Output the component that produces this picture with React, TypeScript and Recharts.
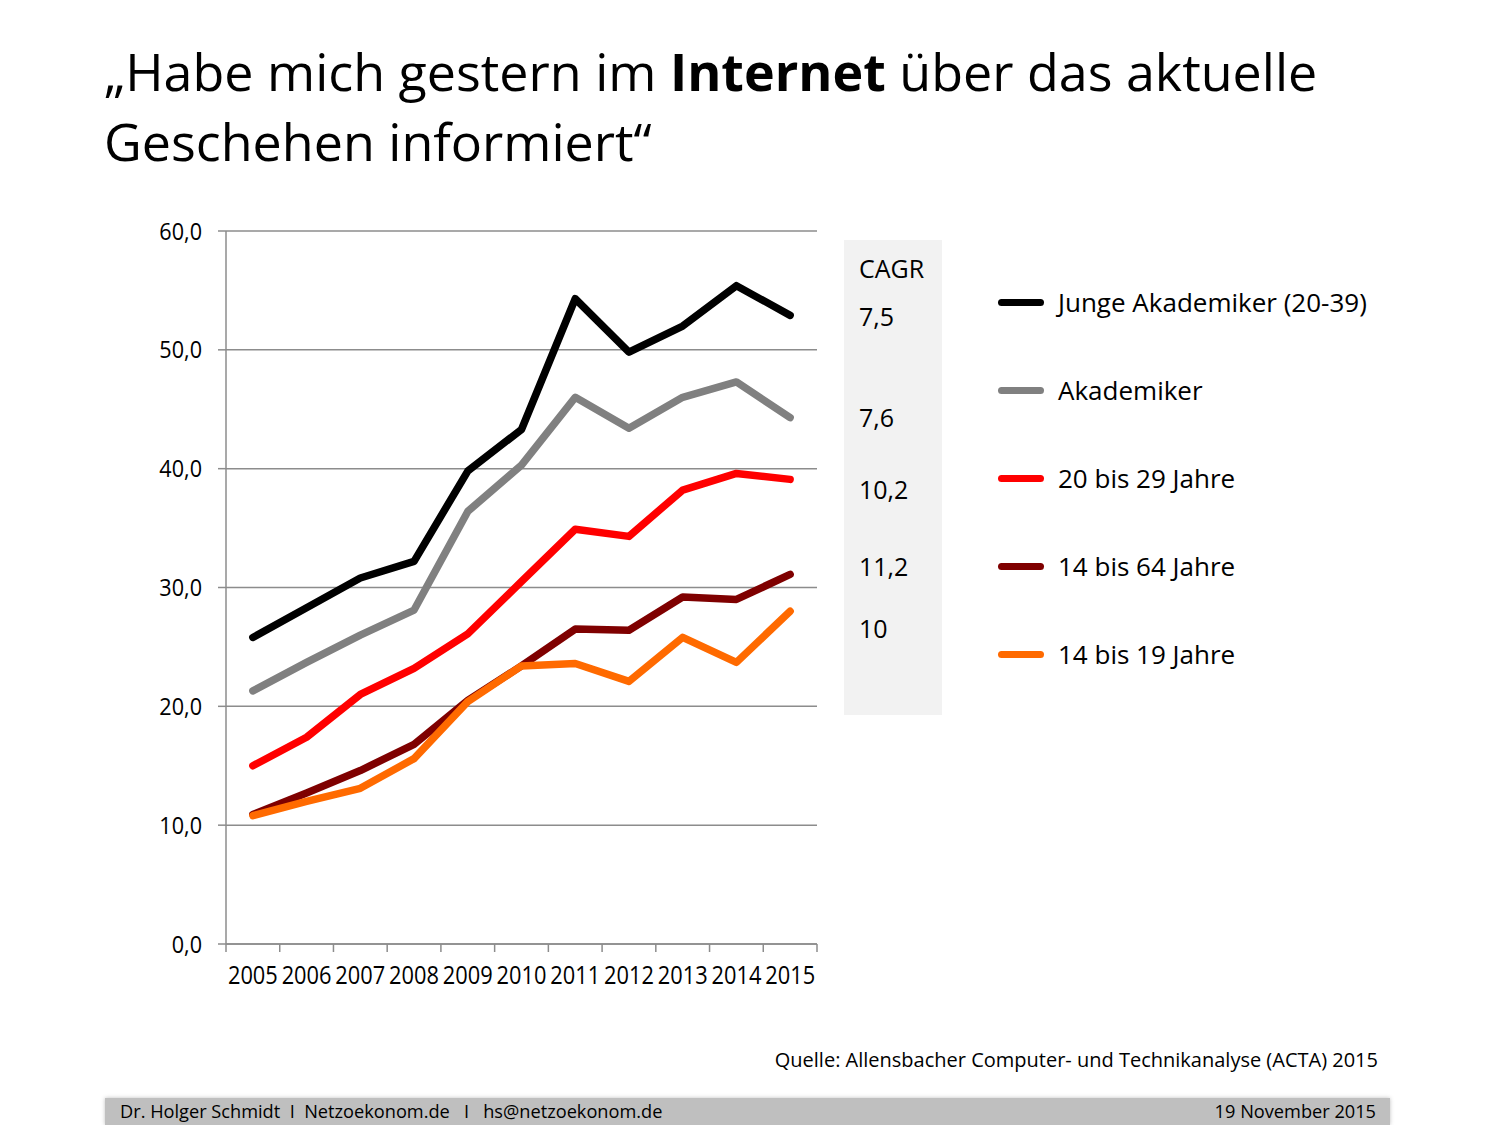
import { CartesianGrid, Line, LineChart, XAxis, YAxis } from "recharts";

const years = ["2005", "2006", "2007", "2008", "2009", "2010", "2011", "2012", "2013", "2014", "2015"];

const jungeAkademiker = [25.8, 28.3, 30.8, 32.2, 39.8, 43.3, 54.3, 49.8, 52.0, 55.4, 52.9];
const akademiker = [21.3, 23.7, 26.0, 28.1, 36.4, 40.3, 46.0, 43.4, 46.0, 47.3, 44.3];
const jahre20bis29 = [15.0, 17.4, 21.0, 23.2, 26.1, 30.5, 34.9, 34.3, 38.2, 39.6, 39.1];
const jahre14bis64 = [10.9, 12.7, 14.6, 16.8, 20.5, 23.4, 26.5, 26.4, 29.2, 29.0, 31.1];
const jahre14bis19 = [10.8, 12.0, 13.1, 15.6, 20.4, 23.4, 23.6, 22.1, 25.8, 23.7, 28.0];

const yTicks = [0, 10, 20, 30, 40, 50, 60];
const cagrValues = ["7,5", "7,6", "10,2", "11,2", "10"];

const series = [
  { key: "junge", name: "Junge Akademiker (20-39)", color: "#000000", values: jungeAkademiker },
  { key: "akad", name: "Akademiker", color: "#808080", values: akademiker },
  { key: "j2029", name: "20 bis 29 Jahre", color: "#ff0000", values: jahre20bis29 },
  { key: "j1464", name: "14 bis 64 Jahre", color: "#7f0000", values: jahre14bis64 },
  { key: "j1419", name: "14 bis 19 Jahre", color: "#ff6a00", values: jahre14bis19 },
];

// category bands: point i sits at i + 0.5, tick marks on the band edges
const data = years.map((year, i) => {
  const row: Record<string, number | string> = { year, pos: i + 0.5 };
  series.forEach((s) => (row[s.key] = s.values[i]));
  return row;
});
const edgeTicks = years.map((_, i) => i).concat(years.length);
const labelTicks = years.map((_, i) => i + 0.5);

const FONT = "'Open Sans', 'DejaVu Sans', sans-serif";
const cagrTop = [251, 299, 400, 472, 549, 611];

// the slide squeezes tick labels horizontally
function XTick({ x, y, payload }: any) {
  return (
    <text transform={`translate(${x},${y}) scale(0.84,1)`} textAnchor="middle" dy="0.71em" fontSize={26} fontFamily={FONT} fill="#000">
      {years[Math.floor(payload.value)]}
    </text>
  );
}

function YTick({ x, y, payload }: any) {
  return (
    <text transform={`translate(${x},${y}) scale(0.9,1)`} textAnchor="end" dy="0.355em" fontSize={24} fontFamily={FONT} fill="#000">
      {Number(payload.value).toFixed(1).replace(".", ",")}
    </text>
  );
}

function LegendBox() {
  return (
    <div style={{ position: "absolute", left: 998, top: 258, fontFamily: FONT }}>
      {series.map((s) => (
        <div key={s.key} style={{ display: "flex", alignItems: "center", height: 88 }}>
          <div style={{ width: 46, height: 7, borderRadius: 4, background: s.color, marginRight: 14 }} />
          <span style={{ fontSize: 26, color: "#000", whiteSpace: "nowrap" }}>{s.name}</span>
        </div>
      ))}
    </div>
  );
}

export default function App() {
  return (
    <div style={{ position: "absolute", left: 0, top: 0, width: 1500, height: 1125, background: "#fff", fontFamily: FONT, overflow: "hidden" }}>
      <div style={{ position: "absolute", left: 104, top: 36, fontSize: 52, lineHeight: "70px", color: "#000" }}>
        „Habe mich gestern im <b>Internet</b> über das aktuelle
        <br />
        Geschehen informiert“
      </div>

      <div style={{ position: "absolute", left: 844, top: 240, width: 98, height: 475, background: "#f2f2f2" }} />
      <div style={{ position: "absolute", left: 859, top: cagrTop[0], fontSize: 25 }}>CAGR</div>
      {cagrValues.map((v, i) => (
        <div key={v + i} style={{ position: "absolute", left: 859, top: cagrTop[i + 1], fontSize: 25 }}>
          {v}
        </div>
      ))}

      <div style={{ position: "absolute", left: 0, top: 0 }}>
        <LineChart width={900} height={1020} data={data} margin={{ top: 231, right: 83, left: 0, bottom: 24 }}>
          <CartesianGrid vertical={false} stroke="#8c8c8c" strokeWidth={1.5} />
          <XAxis
            xAxisId="edges"
            type="number"
            dataKey="pos"
            domain={[0, years.length]}
            ticks={edgeTicks}
            tick={() => <g />}
            tickSize={8}
            height={10}
            interval={0}
            axisLine={{ stroke: "#8c8c8c", strokeWidth: 1.5 }}
            tickLine={{ stroke: "#8c8c8c", strokeWidth: 1.5 }}
          />
          <XAxis
            xAxisId="labels"
            type="number"
            dataKey="pos"
            domain={[0, years.length]}
            ticks={labelTicks}
            axisLine={false}
            tickLine={false}
            tickSize={0}
            tickMargin={12}
            height={42}
            interval={0}
            tick={<XTick />}
          />
          <YAxis
            type="number"
            domain={[0, 60]}
            ticks={yTicks}
            width={226}
            tickSize={8}
            tickMargin={16}
            tick={<YTick />}
            axisLine={{ stroke: "#8c8c8c", strokeWidth: 1.5 }}
            tickLine={{ stroke: "#8c8c8c", strokeWidth: 1.5 }}
          />
          {series.map((s) => (
            <Line
              key={s.key}
              xAxisId="edges"
              dataKey={s.key}
              name={s.name}
              stroke={s.color}
              strokeWidth={7.5}
              strokeLinejoin="round"
              strokeLinecap="round"
              dot={false}
              activeDot={false}
              isAnimationActive={false}
            />
          ))}
        </LineChart>
      </div>

      <LegendBox />

      <div style={{ position: "absolute", right: 122, top: 1046, fontSize: 20, fontFamily: FONT }}>
        Quelle: Allensbacher Computer- und Technikanalyse (ACTA) 2015
      </div>

      <div style={{ position: "absolute", left: 105, top: 1098, width: 1285, height: 27, background: "#bfbfbf", boxShadow: "0 0 4px rgba(0,0,0,0.25)" }} />
      <div style={{ position: "absolute", left: 120, top: 1099, fontSize: 18.2, fontFamily: FONT, whiteSpace: "pre" }}>
        {"Dr. Holger Schmidt  I  Netzoekonom.de   I   hs@netzoekonom.de"}
      </div>
      <div style={{ position: "absolute", right: 124, top: 1099, fontSize: 18.2, fontFamily: FONT }}>19 November 2015</div>
    </div>
  );
}
